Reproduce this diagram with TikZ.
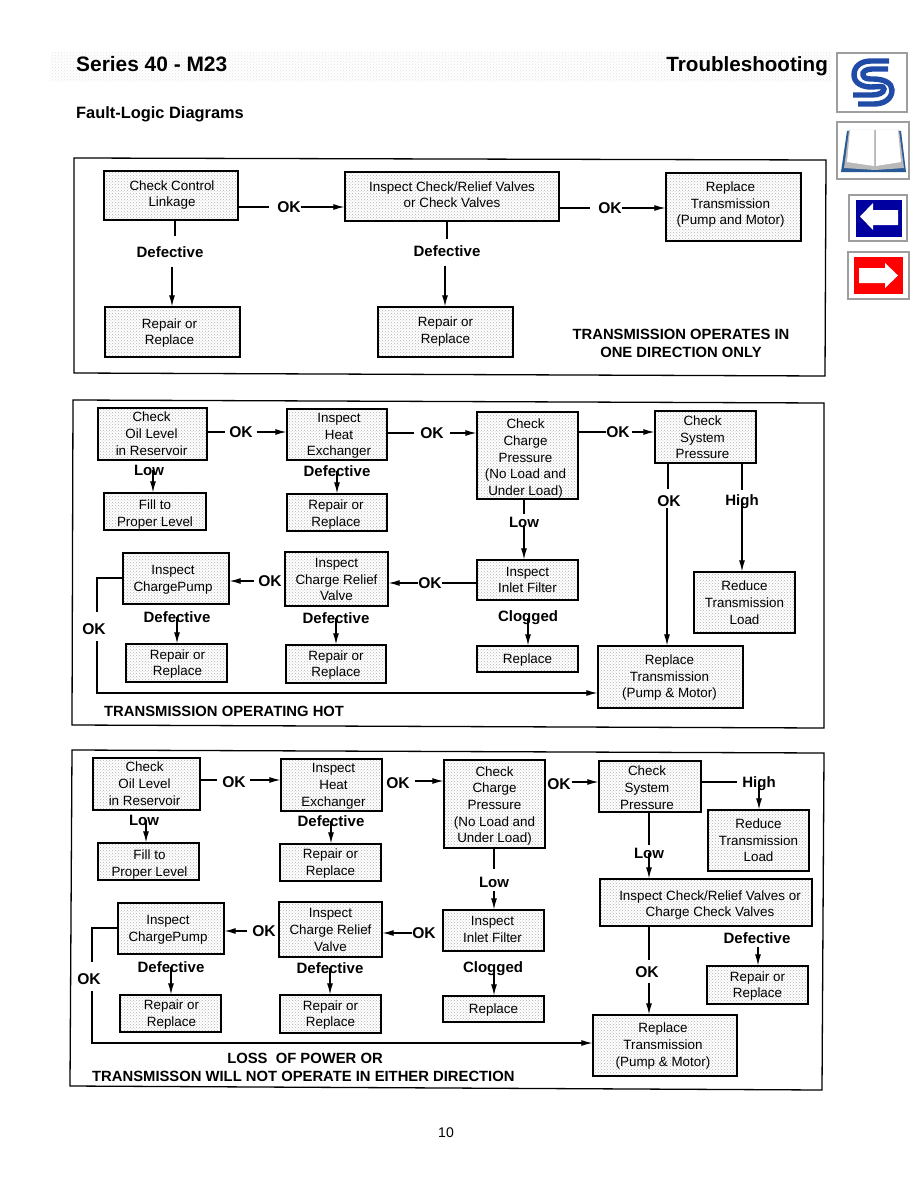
\documentclass[tikz,border=0pt]{standalone}
\usepackage{fontspec}
\setmainfont{Liberation Sans}
\usetikzlibrary{patterns,calc,arrows.meta}
\definecolor{sidegray}{gray}{0.62}
\definecolor{logoblue}{RGB}{32,76,168}
\definecolor{bookblue}{RGB}{40,90,150}
\definecolor{navblue}{RGB}{0,0,160}
\newcommand\boxfont{\fontsize{13.4}{16.6}\selectfont}
\newcommand\lblfont{\fontsize{15}{17}\selectfont\bfseries}
\tikzset{
  x=1pt,y=-1pt,
  bx/.style={draw,line width=1.3pt,preaction={fill=white},pattern=crosshatch dots,pattern color=gray!60,inner sep=0pt,font=\boxfont},
  lbl/.style={inner sep=0pt,font=\lblfont},
  oklbl/.style={inner sep=0pt,font=\fontsize{15.6}{17}\selectfont\bfseries},
  ttl/.style={inner sep=0pt,font=\fontsize{14.8}{18}\selectfont\bfseries},
  pan/.style={line width=1.3pt},
  ln/.style={line width=1.1pt},
  arr/.style={line width=1.1pt,-{Latex[length=11pt,width=6pt]}},
  side/.style={draw=sidegray,line width=1.5pt,fill=white},
}
% name, x1,y1,x2,y2, text offset dx,dy, text
\newcommand\bxn[8]{%
  \pgfmathsetmacro\bw{#4-#2}\pgfmathsetmacro\bh{#5-#3}%
  \pgfmathsetmacro\bcx{(#2+#4)/2}\pgfmathsetmacro\bcy{(#3+#5)/2}%
  \node[bx,minimum width=\bw pt,minimum height=\bh pt] (#1) at (\bcx,\bcy)
  {\makebox[0pt]{\hspace*{\dimexpr #6pt+#6pt\relax}\raisebox{\dimexpr-#7pt-0.25em-1.5pt\relax}[0pt][0pt]{\begin{tabular}[c]{@{}c@{}}#8\end{tabular}}}};}
\begin{document}
\begin{tikzpicture}
\useasboundingbox (0,0) rectangle (918,1188);
\fill[white] (0,0) rectangle (918,1188);
% header band
\fill[pattern=crosshatch dots,pattern color=gray!22] (50,53) rectangle (832,82);
\node[inner sep=0pt,anchor=west,font=\fontsize{20.9}{24}\selectfont\bfseries] (title) at (76,64) {Series 40 - M23};
\node[inner sep=0pt,anchor=east,font=\fontsize{20.6}{24}\selectfont\bfseries] (trb) at (828,66) {Troubleshooting};
\node[inner sep=0pt,anchor=west,font=\fontsize{16.4}{20}\selectfont\bfseries] (fld) at (76,114) {Fault-Logic Diagrams};
% sidebar
\draw[side] (837,53) rectangle (907,112);
\begin{scope}[draw=logoblue,line width=5.4pt]
\draw (889,61) -- (871,61) .. controls (860,61) and (854,67) .. (854,75) .. controls (854,83) and (862,87) .. (871,87) .. controls (878,87) and (884,85) .. (884,89) .. controls (884,93) and (878,95) .. (872,95) -- (853,95);
\draw (888,69) -- (872,69) .. controls (866,69) and (862,72) .. (863,75) .. controls (864,79) and (868,79) .. (873,79) .. controls (884,79) and (892,83) .. (892,90) .. controls (892,99) and (884,104) .. (874,104) -- (858,104);
\end{scope}
\draw[side] (837,122) rectangle (909,179);
\fill[bookblue] (841,172) -- (847,131) -- (901,131) -- (906,172) -- cycle;
\fill[gray!55] (844,168) -- (849,130) -- (899,130) -- (904,168) -- (875,170) -- cycle;
\fill[white] (847,162) -- (850,130) -- (874,130) -- (874,166) -- cycle;
\fill[white] (876,130) -- (898,130) -- (901,162) -- (876,166) -- cycle;
\draw[side] (849,195) rectangle (907,241);
\fill[navblue] (856,200) rectangle (902,237);
\fill[white] (860,216.5) -- (873,203) -- (873,210) -- (898,210) -- (898,225) -- (873,225) -- (873,230) -- cycle;
\draw[side] (848,252) rectangle (909,299);
\fill[red] (854,257) rectangle (903,294);
\fill[white] (898,275.5) -- (885,263) -- (885,268) -- (859,268) -- (859,283) -- (885,283) -- (885,288) -- cycle;
% ---------- panel 1
\draw[pan] (74,158) -- (826,160) -- (825,376) -- (74,373) -- cycle;
\bxn{pa}{104}{171}{238}{220}{1}{-1.5}{Check Control\\Linkage}
\bxn{pb}{345}{172}{559}{221}{0}{-1.5}{Inspect Check/Relief Valves\\or Check Valves}
\bxn{pc}{666}{173}{801}{241}{-3}{-3.5}{Replace\\Transmission\\(Pump and Motor)}
\bxn{pd}{105}{307}{240}{357}{-3}{0}{Repair or\\Replace}
\bxn{pe}{378}{307}{513}{357}{0}{-1.5}{Repair or\\Replace}
\node[oklbl] (pok1) at (289,207) {OK};
\node[oklbl] (pok2) at (610,208) {OK};
\node[lbl] (pdf1) at (170,252) {Defective};
\node[lbl] (pdf2) at (447,251) {Defective};
\draw[ln] (pa.east |- pok1) -- ([xshift=-8pt]pok1.west);
\draw[arr] (pok1.east) -- (pb.west |- pok1);
\draw[ln] (pb.east |- pok2) -- ([xshift=-8pt]pok2.west);
\draw[arr] (pok2.east) -- (pc.west |- pok2);
\draw[ln] ([xshift=5pt]pdf1.north |- pa.south) -- ([xshift=5pt,yshift=10pt]pdf1.north);
\draw[arr] ([xshift=2pt,yshift=-9pt]pdf1.south) -- ([xshift=2pt]pdf1.south |- pd.north);
\draw[ln] (pdf2.north |- pb.south) -- ([yshift=6pt]pdf2.north);
\draw[arr] ([xshift=-2pt,yshift=-9pt]pdf2.south) -- ([xshift=-2pt]pdf2.south |- pe.north);
\node[ttl,align=center,font=\fontsize{14.8}{18}\selectfont\bfseries] (pttl) at (681,343) {TRANSMISSION OPERATES IN\\ONE DIRECTION ONLY};
% ---------- panel 2
\draw[pan] (73,400) -- (824,403) -- (824,728) -- (72,725) -- cycle;
\bxn{qa}{98}{408}{207}{460}{-1}{0}{Check\\Oil Level\\in Reservoir}
\bxn{qb}{287}{409}{387}{460}{2}{0}{Inspect\\Heat\\Exchanger}
\bxn{qc}{477}{412}{578}{499}{-2}{2}{Check\\Charge\\Pressure\\(No Load and\\Under Load)}
\bxn{qd}{655}{411}{756}{463}{-3}{0.5}{Check\\System\\Pressure}
\bxn{qe}{104}{493}{206}{530}{0}{2}{Fill to\\Proper Level}
\bxn{qf}{287}{494}{387}{531}{-1}{1}{Repair or\\Replace}
\bxn{qg}{123}{553}{229}{604}{-3}{0}{Inspect\\ChargePump}
\bxn{qh}{285}{552}{388}{606}{0}{0.5}{Inspect\\Charge Relief\\Valve}
\bxn{qi}{477}{560}{578}{600}{0}{0}{Inspect\\Inlet Filter}
\bxn{qj}{694}{572}{795}{633}{0}{0.5}{Reduce\\Transmission\\Load}
\bxn{qk}{126}{644}{227}{682}{1}{0}{Repair or\\Replace}
\bxn{ql}{286}{645}{386}{683}{0}{0}{Repair or\\Replace}
\bxn{qm}{477}{646}{578}{672}{0}{0}{Replace}
\bxn{qn}{598}{646}{743}{708}{-1}{-0.5}{Replace\\Transmission\\(Pump \& Motor)}
\node[oklbl] (qok1) at (241,432) {OK};
\node[oklbl] (qok2) at (432,433) {OK};
\node[oklbl] (qok3) at (618,432) {OK};
\node[oklbl] (qok4) at (270,581) {OK};
\node[oklbl] (qok5) at (430,583) {OK};
\node[oklbl] (qok6) at (94,629) {OK};
\node[oklbl] (qok7) at (669,501) {OK};
\node[lbl] (qhi) at (742,502) {High};
\node[lbl] (qlo1) at (149,470) {Low};
\node[lbl] (qlo2) at (524,522) {Low};
\node[lbl] (qdf1) at (337,471) {Defective};
\node[lbl] (qdf2) at (177,617) {Defective};
\node[lbl] (qdf3) at (336,618) {Defective};
\node[lbl] (qclg) at (528,618) {Clogged};
\draw[ln] (qa.east |- qok1) -- ([xshift=-4pt]qok1.west);
\draw[arr] ([xshift=4pt]qok1.east) -- (qb.west |- qok1);
\draw[ln] (qb.east |- qok2) -- ([xshift=-6pt]qok2.west);
\draw[arr] ([xshift=6pt]qok2.east) -- (qc.west |- qok2);
\draw[ln] (qc.east |- qok3) -- (qok3.west);
\draw[arr] ([xshift=2pt]qok3.east) -- (qd.west |- qok3);
\draw[arr] ([xshift=4pt]qlo1.center) -- ([xshift=4pt]qlo1.center |- qe.north);
\draw[arr] (qdf1.center) -- (qdf1.center |- qf.north);
\draw[arr] (qdf2.center) -- (qdf2.center |- qk.north);
\draw[arr] (qdf3.center) -- (qdf3.center |- ql.north);
\draw[arr] (qclg.center) -- (qclg.center |- qm.north);
\draw[ln] (qlo2.north |- qc.south) -- ([yshift=3pt]qlo2.north);
\draw[arr] ([yshift=-3pt]qlo2.center) -- (qlo2.center |- qi.north);
\draw[arr] ([xshift=-4pt]qok4.west) -- (qg.east |- qok4.west);
\draw[ln] (qi.west |- qok5) -- (qok5.east);
\draw[arr] (qok5.west) -- (qh.east |- qok5.west);
\draw[ln] (qg.west |- 0,578) -- (97,578) -- (97,612);
\draw[arr] (97,641) -- (97,693) -- (qn.west |- 0,693);
\draw[ln] ([xshift=-1pt]qok7.north |- qd.south) -- ([xshift=-1pt,yshift=6pt]qok7.north);
\draw[arr] ([xshift=-2pt,yshift=-1pt]qok7.south) -- ([xshift=-2pt]qok7.south |- qn.north);
\draw[ln] (qhi.north |- qd.south) -- ([yshift=5pt]qhi.north);
\draw[arr] (qhi.center) -- (qhi.center |- qj.north);
\node[ttl,anchor=west] (qttl) at (104,711) {TRANSMISSION OPERATING HOT};
% ---------- panel 3
\draw[pan] (72,750) -- (824,753) -- (822,1090) -- (70,1086) -- cycle;
\bxn{ra}{93}{758}{200}{810}{-2}{0}{Check\\Oil Level\\in Reservoir}
\bxn{rb}{281}{759}{382}{811}{2}{0}{Inspect\\Heat\\Exchanger}
\bxn{rc}{444}{760}{545}{848}{0}{1}{Check\\Charge\\Pressure\\(No Load and\\Under Load)}
\bxn{rd}{599}{761}{701}{812}{-3}{1.5}{Check\\System\\Pressure}
\bxn{re}{98}{843}{199}{880}{1}{2}{Fill to\\Proper Level}
\bxn{rf}{280}{844}{381}{881}{0}{0}{Repair or\\Replace}
\bxn{rg}{118}{903}{224}{954}{-3}{0}{Inspect\\ChargePump}
\bxn{rh}{279}{902}{382}{957}{0}{0.5}{Inspect\\Charge Relief\\Valve}
\bxn{ri}{443}{910}{544}{951}{-1}{-1}{Inspect\\Inlet Filter}
\bxn{rr}{708}{810}{809}{871}{0}{0}{Reduce\\Transmission\\Load}
\bxn{rs}{600}{879}{812}{926}{4}{1.5}{Inspect Check/Relief Valves or\\Charge Check Valves}
\bxn{rt}{707}{966}{808}{1004}{0}{0}{Repair or\\Replace}
\bxn{rk}{120}{995}{221}{1032}{1}{0}{Repair or\\Replace}
\bxn{rl}{280}{995}{381}{1033}{0}{0}{Repair or\\Replace}
\bxn{rm}{443}{996}{544}{1022}{0}{0}{Replace}
\bxn{rn}{593}{1015}{737}{1076}{-2}{-0.5}{Replace\\Transmission\\(Pump \& Motor)}
\node[oklbl] (rok1) at (234,782) {OK};
\node[oklbl] (rok2) at (398,783) {OK};
\node[oklbl] (rok3) at (559,784) {OK};
\node[oklbl] (rok4) at (264,931) {OK};
\node[oklbl] (rok5) at (424,933) {OK};
\node[oklbl] (rok6) at (89,979) {OK};
\node[oklbl] (rok7) at (647,972) {OK};
\node[lbl] (rhi) at (759,784) {High};
\node[lbl] (rlo1) at (144,820) {Low};
\node[lbl] (rlo2) at (494,882) {Low};
\node[lbl] (rlo3) at (649,853) {Low};
\node[lbl] (rdf1) at (331,821) {Defective};
\node[lbl] (rdf2) at (171,967) {Defective};
\node[lbl] (rdf3) at (330,968) {Defective};
\node[lbl] (rdf4) at (757,938) {Defective};
\node[lbl] (rclg) at (493,969) {Clogged};
\draw[ln] (ra.east |- 0,780) -- ([xshift=-5pt]rok1.west |- 0,780);
\draw[arr] ([xshift=4pt]rok1.east |- 0,780) -- (rb.west |- 0,780);
\draw[arr] ([xshift=5pt]rok2.east |- 0,781) -- (rc.west |- 0,781);
\draw[arr] ([xshift=1pt]rok3.east |- 0,782) -- (rd.west |- 0,782);
\draw[ln] (rd.east |- 0,782) -- ([xshift=-5pt]rhi.west |- 0,782);
\draw[arr] (rhi.center) -- (rhi.center |- rr.north);
\draw[arr] ([xshift=2pt]rlo1.center) -- ([xshift=2pt]rlo1.center |- re.north);
\draw[arr] (rdf1.center) -- (rdf1.center |- rf.north);
\draw[arr] (rdf2.center) -- (rdf2.center |- rk.north);
\draw[arr] (rdf3.center) -- (rdf3.center |- rl.north);
\draw[arr] ([xshift=1pt]rclg.center) -- ([xshift=1pt]rclg.center |- rm.north);
\draw[ln] (rlo2.north |- rc.south) -- ([yshift=8pt]rlo2.north);
\draw[arr] ([yshift=-4pt]rlo2.south) -- (rlo2.south |- ri.north);
\draw[ln] (rlo3.north |- rd.south) -- ([yshift=3pt]rlo3.north);
\draw[arr] (rlo3.center) -- (rlo3.center |- rs.north);
\draw[arr] ([xshift=-5pt]rok4.west) -- (rg.east |- rok4.west);
\draw[arr] (rok5.west) -- (rh.east |- rok5.west);
\draw[ln] (rg.west |- 0,928) -- (92,928) -- (92,962);
\draw[arr] (92,991) -- (92,1043) -- (rn.west |- 0,1043);
\draw[ln] ([xshift=2pt]rok7.north |- rs.south) -- ([xshift=2pt,yshift=6pt]rok7.north);
\draw[arr] ([xshift=2pt,yshift=-5pt]rok7.south) -- ([xshift=2pt]rok7.south |- rn.north);
\draw[arr] ([xshift=1pt,yshift=-3pt]rdf4.south) -- ([xshift=1pt]rdf4.south |- rt.north);
\node[ttl] (rttl1) at (305,1058) {LOSS\ \ OF POWER OR};
\node[ttl,anchor=west] (rttl2) at (92,1076) {TRANSMISSON WILL NOT OPERATE IN EITHER DIRECTION};
\node[inner sep=0pt,font=\fontsize{14}{16}\selectfont] (pg) at (446,1133) {10};
\end{tikzpicture}
\end{document}
